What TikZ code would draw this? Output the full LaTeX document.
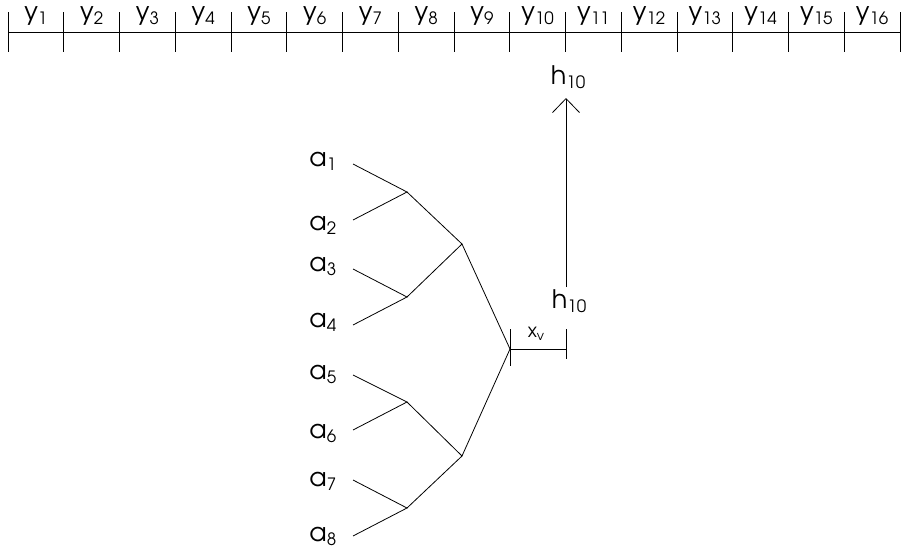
\documentclass[tikz,border=0pt]{standalone}
\usepackage{fontspec}
\setmainfont{texgyreadventor-regular.otf}
\usetikzlibrary{arrows.meta,positioning}
\newcommand{\idx}[2]{#1\raisebox{-4.5pt}{\fontsize{17}{17}\selectfont #2}}

\begin{document}
\begin{tikzpicture}[x=1pt,y=-1pt,line width=0.8pt,
    lbl/.style={inner sep=0pt,anchor=base,font=\fontsize{25.5}{28}\selectfont},
    leaf/.style={inner sep=0pt,anchor=base west,font=\fontsize{25.5}{28}\selectfont}]
    \useasboundingbox (0,0) rectangle (902,549);

    % Линейка y_1 ... y_16
    \def\dx{55.75}
    \foreach \i in {0,...,16}{
        \coordinate (t\i) at (8+\i*\dx,32);
        \draw (t\i) ++(0,-20) -- ++(0,40);
    }
    \draw (t0) -- (t16);
    \foreach \i in {1,...,16}
        \node[lbl] (y\i) at (8+\i*\dx-\dx/2,20) {\idx{y}{\i}};

    % Листья дерева
    \coordinate (l1) at (353,164);  \coordinate (l2) at (353,220);
    \coordinate (l3) at (353,269);  \coordinate (l4) at (353,325);
    \coordinate (l5) at (353,375);  \coordinate (l6) at (353,430);
    \coordinate (l7) at (353,480);  \coordinate (l8) at (353,536);
    \node[leaf] (a1) at (309,166) {\idx{a}{1}};
    \node[leaf] (a2) at (309,230) {\idx{a}{2}};
    \node[leaf] (a3) at (309,271) {\idx{a}{3}};
    \node[leaf] (a4) at (309,327) {\idx{a}{4}};
    \node[leaf] (a5) at (309,379) {\idx{a}{5}};
    \node[leaf] (a6) at (309,438) {\idx{a}{6}};
    \node[leaf] (a7) at (309,486) {\idx{a}{7}};
    \node[leaf] (a8) at (309,541) {\idx{a}{8}};

    % Внутренние вершины
    \coordinate (n12) at (407,192);  \coordinate (n34) at (407,297);
    \coordinate (n56) at (407,402);  \coordinate (n78) at (407,508);
    \coordinate (m1) at (462,244);   \coordinate (m2) at (462,456);
    \coordinate (root) at (510,349);

    \draw (l1) -- (n12) -- (l2);
    \draw (l3) -- (n34) -- (l4);
    \draw (l5) -- (n56) -- (l6);
    \draw (l7) -- (n78) -- (l8);
    \draw (n12) -- (m1) -- (n34);
    \draw (n56) -- (m2) -- (n78);
    \draw (m1) -- (root) -- (m2);

    % Отрезок x_v
    \coordinate (xe) at (566,349);
    \draw (root) -- (xe);
    \draw (510,329) -- (510,366);
    \draw (566,329) -- (566,359);
    \node[lbl,font=\fontsize{19}{22}\selectfont] (xv) at (536,337)
        {x\raisebox{-3pt}{\fontsize{13}{13}\selectfont v}};

    % Стрелка h_10
    \node[lbl] (hlow) at (569,308) {\idx{h}{10}};
    \node[lbl] (htop) at (568,84) {\idx{h}{10}};
    \coordinate (hs) at (566,287);
    \coordinate (he) at (566,98);
    \draw[-{Straight Barb[length=14pt,width=27pt]}] (hs) -- (he);
\end{tikzpicture}
\end{document}
